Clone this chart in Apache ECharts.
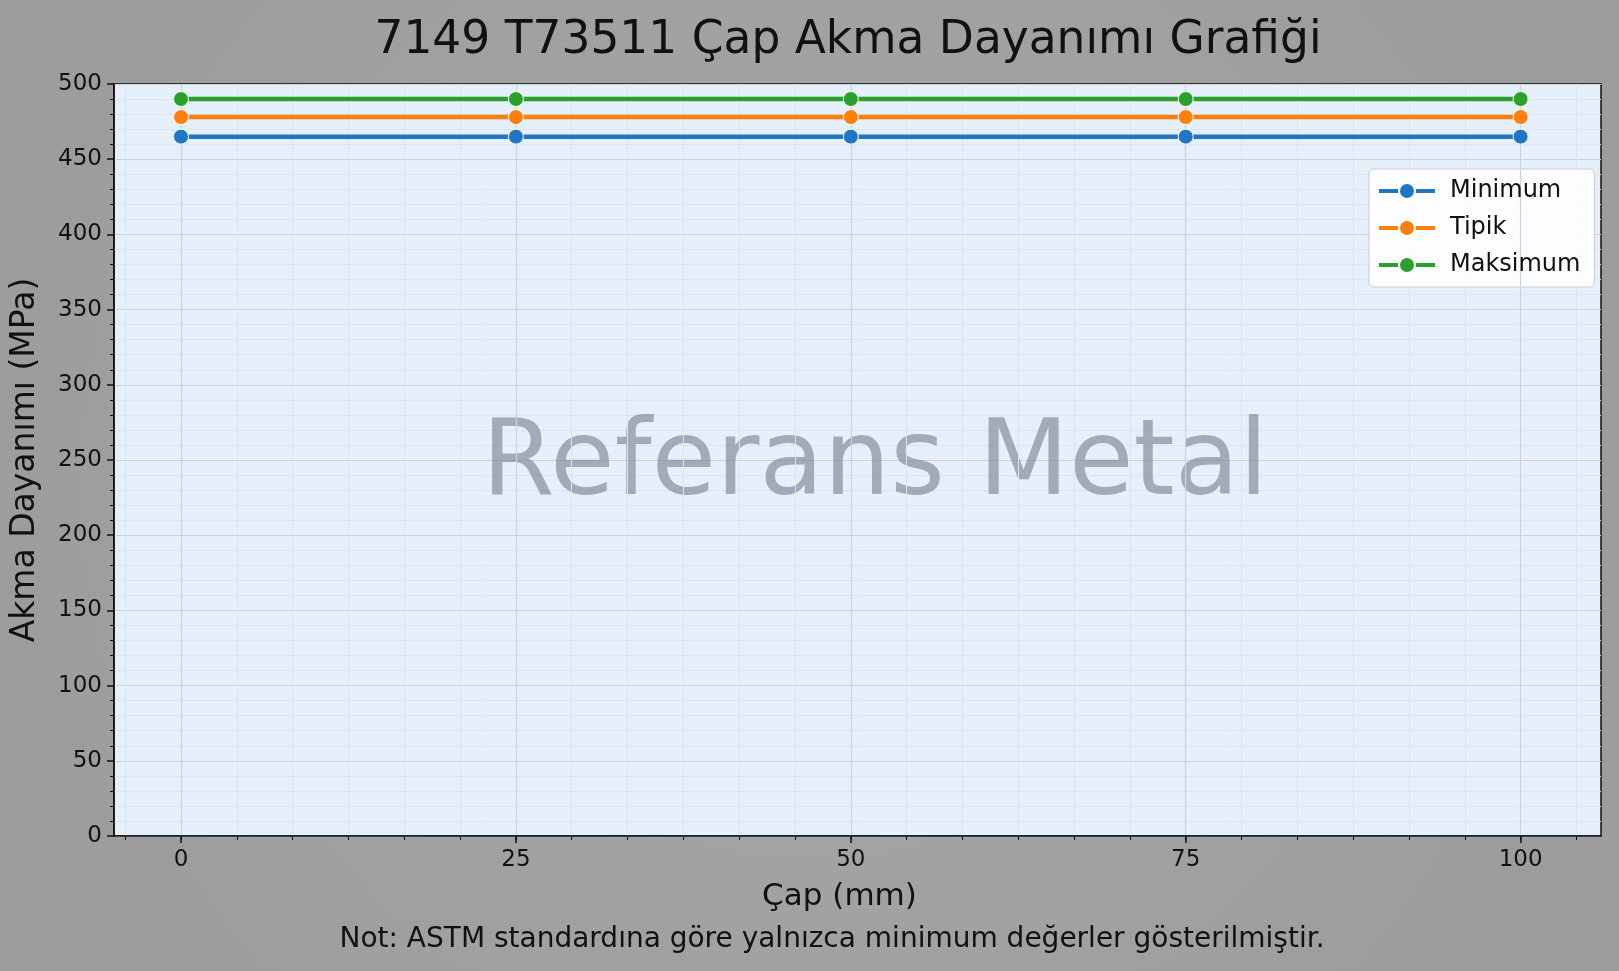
<!DOCTYPE html>
<html>
<head>
<meta charset="utf-8">
<script src="https://cdn.jsdelivr.net/npm/echarts@6/dist/echarts.min.js"></script>
<style>
  html, body { margin: 0; padding: 0; width: 100%; height: 100%; }
  #container { width: 1619px; height: 971px; }
</style>
</head>
<body>
<div id="container"></div>
<script>
// data
var diameters = [0, 25, 50, 75, 100];
var minimumValues = [465, 465, 465, 465, 465];
var typicalValues = [478, 478, 478, 478, 478];
var maximumValues = [490, 490, 490, 490, 490];
var seriesNames = ['Minimum', 'Tipik', 'Maksimum'];
var seriesColors = ['#1f77c4', '#ff7f0e', '#2ca02c'];
var xTickValues = [0, 25, 50, 75, 100];
var yTicks = [0, 50, 100, 150, 200, 250, 300, 350, 400, 450, 500];

var titleText = '7149 T73511 Çap Akma Dayanımı Grafiği';
var xLabel = 'Çap (mm)';
var yLabel = 'Akma Dayanımı (MPa)';
var noteText = 'Not: ASTM standardına göre yalnızca minimum değerler gösterilmiştir.';
var watermark = 'Referans Metal';

var font = 'DejaVu Sans';

// minor ticks on x: 6 per major step
var xMinorValues = [];
var step = (xTickValues[1] - xTickValues[0]) / 6;
for (var v = xTickValues[0] - step; v < 106; v += step) {
    xMinorValues.push(Math.round(v * 1000) / 1000);
}

function pairs(vals) {
    var out = [];
    for (var i = 0; i < diameters.length; i++) out.push([diameters[i], vals[i]]);
    return out;
}

function makeSeries(name, vals, color) {
    return {
        name: name,
        type: 'line',
        xAxisIndex: 0,
        data: pairs(vals),
        symbol: 'circle',
        symbolSize: 15,
        lineStyle: { width: 4.5, color: color },
        itemStyle: { color: color, borderColor: '#ffffff', borderWidth: 1 },
        z: 5
    };
}

function init() {
    var myChart = echarts.init(document.getElementById('container'));
    var option = {
        backgroundColor: {
            type: 'radial', x: 0.5, y: 0.5, r: 0.8,
            colorStops: [{ offset: 0, color: '#a8a8a8' }, { offset: 1, color: '#9d9d9d' }]
        },
        animation: false,
        textStyle: { fontFamily: font },
        title: {
            text: titleText,
            left: 843, top: 13,
            textAlign: 'center',
            textStyle: { fontFamily: font, fontSize: 45.5, fontWeight: 'normal', color: '#111' }
        },
        legend: {
            data: seriesNames,
            orient: 'vertical',
            left: 1369, top: 169,
            width: 223,
            padding: [10, 14, 10, 8],
            itemWidth: 56, itemHeight: 20,
            itemGap: 13,
            lineStyle: { width: 4 },
            backgroundColor: 'rgba(255,255,255,0.85)',
            borderColor: '#cccccc', borderWidth: 1, borderRadius: 5,
            textStyle: { fontFamily: font, fontSize: 24, color: '#111', padding: [0, 0, 0, 10] }
        },
        grid: {
            left: 114, top: 84, right: 18, bottom: 135,
            show: true,
            backgroundColor: '#e6f0fa',
            borderColor: '#111', borderWidth: 1.5
        },
        xAxis: [{
            type: 'value',
            min: -5, max: 106,
            name: xLabel,
            nameLocation: 'middle', nameGap: 45,
            nameTextStyle: { fontFamily: font, fontSize: 31, color: '#111', padding: [0, 36, 0, 0] },
            axisLine: { show: true, onZero: false, lineStyle: { color: '#111', width: 1.5 } },
            axisTick: { show: true, customValues: xTickValues, length: 7, lineStyle: { color: '#111', width: 1.5 } },
            axisLabel: { show: true, customValues: xTickValues, fontSize: 23, color: '#111', margin: 13, fontFamily: font },
            splitLine: { show: true, lineStyle: { color: '#cbd4dd', width: 1.2 } },
            z: 4
        }, {
            type: 'value',
            min: -5, max: 106,
            position: 'bottom',
            axisLine: { show: false, onZero: false },
            axisTick: { show: true, customValues: xMinorValues, length: 4, lineStyle: { color: '#111', width: 1 } },
            axisLabel: { show: false },
            splitLine: { show: true, lineStyle: { color: '#dce5ee', width: 1 } },
            z: 3
        }],
        yAxis: {
            type: 'value',
            min: yTicks[0], max: yTicks[yTicks.length - 1], interval: 50,
            name: yLabel,
            nameLocation: 'middle', nameGap: 72,
            nameTextStyle: { fontFamily: font, fontSize: 33, color: '#111' },
            axisLine: { show: true, onZero: false, lineStyle: { color: '#111', width: 1.5 } },
            axisTick: { show: true, length: 7, lineStyle: { color: '#111', width: 1.5 } },
            axisLabel: { fontSize: 23, color: '#111', margin: 12, fontFamily: font },
            minorTick: { show: true, splitNumber: 5, length: 4, lineStyle: { color: '#111', width: 1 } },
            splitLine: { show: true, lineStyle: { color: '#cbd4dd', width: 1.2 } },
            minorSplitLine: { show: true, lineStyle: { color: '#dce5ee', width: 1 } }
        },
        graphic: [{
            type: 'text',
            x: 875, y: 467,
            style: {
                text: watermark,
                font: '105px "DejaVu Sans"',
                fill: 'rgba(110,115,125,0.55)',
                align: 'center',
                verticalAlign: 'middle'
            },
            z: 3
        }, {
            type: 'text',
            x: 832, y: 940,
            style: {
                text: noteText,
                font: '28px "DejaVu Sans"',
                fill: '#111',
                align: 'center',
                verticalAlign: 'middle'
            }
        }],
        series: [
            makeSeries(seriesNames[0], minimumValues, seriesColors[0]),
            makeSeries(seriesNames[1], typicalValues, seriesColors[1]),
            makeSeries(seriesNames[2], maximumValues, seriesColors[2])
        ]
    };
    myChart.setOption(option, true);
}

init();
</script>
</body>
</html>
